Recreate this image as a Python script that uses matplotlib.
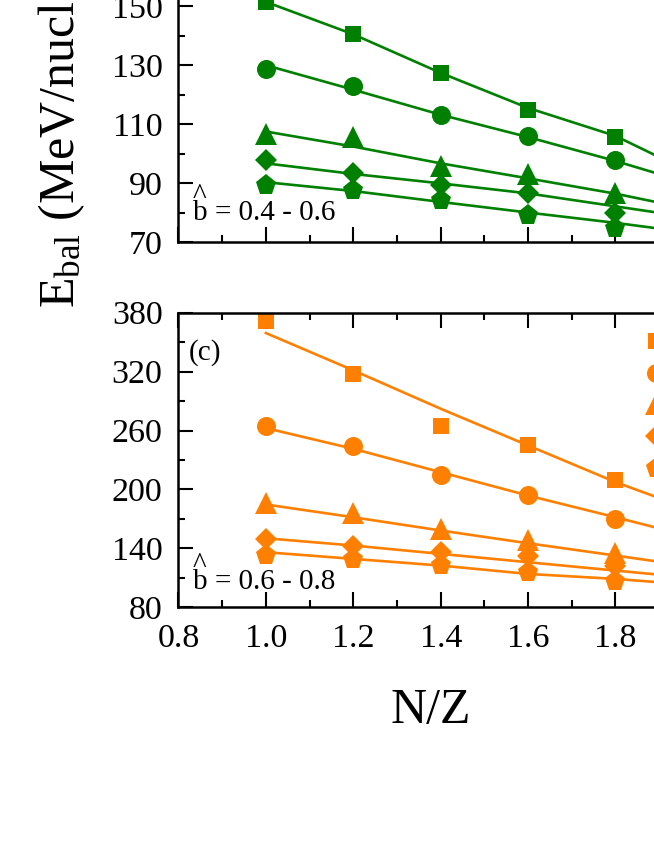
import numpy as np
import matplotlib
matplotlib.use("Agg")
import matplotlib.pyplot as plt
from matplotlib.ticker import MultipleLocator, FormatStrFormatter
from matplotlib.lines import Line2D

plt.rcParams['font.family'] = ['Liberation Serif', 'DejaVu Serif']
plt.rcParams['mathtext.fontset'] = 'custom'
plt.rcParams['mathtext.rm'] = 'Liberation Serif'
plt.rcParams['mathtext.it'] = 'Liberation Serif:italic'

# ---------------- data ----------------
nz = [1.0, 1.2, 1.4, 1.6, 1.8, 2.0]
markers = ['s', 'o', '^', 'D', 'p']
marker_sizes = [12.2, 13.7, 15.5, 11.5, 15.5]

# panel (b): b^ = 0.4 - 0.6
b_sq = [151.3, 140.7, 127.4, 114.9, 105.8, 92.0]
b_ci = [128.8, 122.8, 113.0, 106.0, 97.8, 89.0]
b_tr = [106.6, 105.8, 95.8, 93.1, 86.7, 80.0]
b_di = [97.8, 93.3, 89.3, 86.7, 79.9, 77.0]
b_pe = [89.5, 87.6, 84.2, 79.3, 74.8, 72.0]
b_fit_sq = [151.5, 140.5, 127.4, 115.5, 106.0, 91.6]
b_fit_ci = [130.0, 121.7, 113.2, 105.6, 97.5, 88.6]
b_fit_tr = [107.5, 102.4, 96.7, 91.6, 86.4, 80.3]
b_fit_di = [96.7, 93.1, 89.9, 86.5, 82.1, 77.7]
b_fit_pe = [90.3, 87.3, 83.6, 80.0, 76.5, 72.6]

# panel (c): b^ = 0.6 - 0.8
c_sq = [372.0, 318.0, 264.5, 244.8, 210.0, 178.0]
c_ci = [264.5, 244.1, 214.9, 194.8, 170.0, 150.0]
c_tr = [186.5, 176.2, 159.8, 148.6, 135.0, 122.0]
c_di = [149.7, 142.9, 136.1, 132.7, 122.5, 112.0]
c_pe = [133.3, 129.3, 123.5, 115.7, 107.2, 100.0]
c_fit_sq = [359.3, 321.3, 282.2, 244.8, 207.5, 175.0]
c_fit_ci = [262.5, 241.4, 217.6, 193.8, 171.7, 149.0]
c_fit_tr = [184.7, 171.7, 158.2, 145.2, 132.7, 120.0]
c_fit_di = [150.3, 142.9, 134.4, 125.9, 117.4, 109.0]
c_fit_pe = [136.1, 129.3, 122.5, 114.0, 108.9, 102.0]

green = '#008000'
orange = '#FF8000'

W, H = 654, 846
fig = plt.figure(figsize=(W / 100, H / 100), dpi=100)

left_px = 178.5
axw_px = 1.4 * 437.0
axh_px = 294.6

def make_ax(bottom_px_from_top):
    return fig.add_axes([left_px / W, (H - bottom_px_from_top) / H, axw_px / W, axh_px / H])

ax_b = make_ax(242.0)
ax_c = make_ax(607.3)

def style(ax, ymin, ymax, ymaj, ymaj_off, ymin_step, ymin_off):
    ax.set_xlim(0.8, 2.2)
    ax.set_ylim(ymin, ymax)
    ax.xaxis.set_major_locator(MultipleLocator(0.2))
    ax.xaxis.set_minor_locator(MultipleLocator(0.1))
    ax.yaxis.set_major_locator(MultipleLocator(ymaj, offset=ymaj_off))
    ax.yaxis.set_minor_locator(MultipleLocator(ymin_step, offset=ymin_off))
    ax.tick_params(which='both', direction='in', top=True, right=True, width=1.5)
    ax.tick_params(which='major', length=10.8)
    ax.tick_params(which='minor', length=5.0)
    ax.tick_params(axis='y', which='major', labelsize=24.5, pad=11.5)
    ax.tick_params(axis='x', which='major', labelsize=24.5, pad=12)
    for s in ax.spines.values():
        s.set_linewidth(1.8)

style(ax_b, 70, 170, 20, 10, 10, 0)
style(ax_c, 80, 380, 60, 20, 30, 20)
ax_b.tick_params(axis='x', labelbottom=False)
ax_c.xaxis.set_major_formatter(FormatStrFormatter('%.1f'))

def draw(ax, pts, fits, color):
    for y, f, m, ms in zip(pts, fits, markers, marker_sizes):
        ax.plot(nz, f, '-', color=color, lw=1.9)
        ax.plot(nz, y, ls='none', marker=m, ms=ms, color=color, mew=0)

draw(ax_b, [b_sq, b_ci, b_tr, b_di, b_pe],
     [b_fit_sq, b_fit_ci, b_fit_tr, b_fit_di, b_fit_pe], green)
draw(ax_c, [c_sq, c_ci, c_tr, c_di, c_pe],
     [c_fit_sq, c_fit_ci, c_fit_tr, c_fit_di, c_fit_pe], orange)

def fx(px):
    return (px - left_px) / axw_px

# annotations (caret over b as a first line of the same text)
for ax, txt, base in [(ax_b, "^\nb = 0.4 - 0.6", 22.0), (ax_c, "^\nb = 0.6 - 0.8", 18.0)]:
    ax.text(fx(193), base / axh_px, txt, transform=ax.transAxes,
            fontsize=21, ha='left', va='baseline', linespacing=0.5,
            multialignment='left')

ax_c.text(fx(189), (607.3 - 353) / axh_px, "(c)", transform=ax_c.transAxes,
          fontsize=21, ha='left', va='center')

# legend (panel c) -- its labels lie beyond the visible right edge
handles = [Line2D([], [], ls='none', marker=m, ms=ms, color=orange, mew=0)
           for m, ms in zip(markers, marker_sizes)]
ax_c.legend(handles, [''] * len(handles), loc='upper left',
            bbox_to_anchor=(fx(643), (607.3 - 332) / axh_px),
            frameon=False, fontsize=18, handlelength=1.0, handletextpad=0.5,
            borderpad=0, borderaxespad=0, labelspacing=0.37)

# axis labels
fig.text(431 / W, (H - 687) / H, "N/Z", fontsize=36, ha='center', va='top')
fig.text(62 / W, (H - 308) / H, r"E$_{\mathrm{bal}}$ (MeV/nucleon)", fontsize=36,
         rotation=90, ha='center', va='bottom')

fig.savefig("out.png", dpi=100)
